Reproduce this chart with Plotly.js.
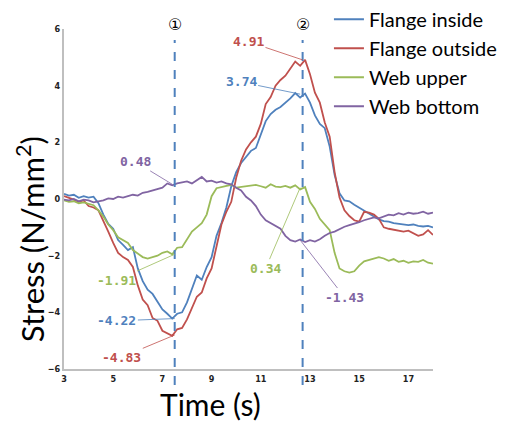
<!DOCTYPE html>
<html>
<head>
<meta charset="utf-8">
<script src="https://cdn.plot.ly/plotly-3.0.1.min.js"></script>
<style>html,body{margin:0;padding:0;background:#fff;}#chart{width:516px;height:424px;}</style>
</head>
<body>
<div id="chart"></div>
<script>
const time = [3.0,3.2,3.4,3.6,3.8,4.0,4.2,4.4,4.6,4.8,5.0,5.2,5.4,5.6,5.8,6.0,6.2,6.4,6.6,6.8,7.0,7.2,7.4,7.6,7.8,8.0,8.2,8.4,8.6,8.8,9.0,9.2,9.4,9.6,9.8,10.0,10.2,10.4,10.6,10.8,11.0,11.2,11.4,11.6,11.8,12.0,12.2,12.4,12.6,12.8,13.0,13.2,13.4,13.6,13.8,14.0,14.2,14.4,14.6,14.8,15.0,15.2,15.4,15.6,15.8,16.0,16.2,16.4,16.6,16.8,17.0,17.2,17.4,17.6,17.8,18.0];

const flangeInside = [0.18,0.12,0.15,0.04,0.10,0.05,0.08,-0.15,-0.55,-0.88,-1.05,-1.45,-1.62,-1.80,-1.70,-2.45,-2.90,-3.20,-3.35,-3.62,-3.90,-4.05,-4.22,-4.05,-4.00,-3.65,-3.15,-2.70,-2.85,-2.40,-2.05,-1.30,-0.85,-0.30,0.45,0.95,1.27,1.50,1.70,1.80,2.30,2.75,3.00,3.15,3.25,3.40,3.55,3.74,3.58,3.72,3.40,2.95,2.65,2.50,1.85,0.85,0.20,-0.05,-0.08,-0.20,-0.30,-0.42,-0.50,-0.60,-0.72,-0.78,-0.80,-0.85,-0.88,-0.90,-0.92,-0.90,-0.95,-0.97,-0.95,-1.00];

const flangeOutside = [0.10,0.05,-0.02,-0.10,-0.05,-0.25,-0.30,-0.40,-0.75,-1.15,-1.55,-1.90,-2.05,-2.15,-2.40,-3.05,-3.55,-3.75,-4.20,-4.30,-4.65,-4.75,-4.83,-4.60,-4.55,-4.25,-3.85,-3.45,-3.30,-2.80,-2.45,-1.65,-0.90,-0.45,-0.10,0.75,1.35,1.75,2.00,2.20,2.65,3.35,3.60,4.00,4.20,4.35,4.60,4.85,4.70,4.91,4.40,3.75,3.40,2.70,2.20,0.95,0.05,-0.40,-0.60,-0.75,-0.80,-0.45,-0.48,-0.55,-0.70,-1.00,-1.05,-1.08,-1.10,-1.15,-1.12,-1.20,-1.30,-1.25,-1.10,-1.27];

const webUpper = [-0.05,-0.10,-0.08,-0.15,-0.12,-0.18,-0.22,-0.40,-0.62,-0.90,-1.10,-1.35,-1.45,-1.55,-1.80,-1.92,-2.05,-2.10,-2.05,-2.00,-1.90,-1.85,-1.95,-1.72,-1.70,-1.40,-1.15,-1.00,-0.85,-0.55,0.10,0.38,0.42,0.45,0.50,0.40,0.42,0.45,0.48,0.50,0.45,0.40,0.52,0.44,0.42,0.46,0.40,0.48,0.34,0.42,-0.10,-0.35,-0.70,-0.90,-1.10,-1.90,-2.45,-2.55,-2.60,-2.55,-2.35,-2.20,-2.15,-2.12,-2.05,-2.10,-2.18,-2.12,-2.22,-2.18,-2.25,-2.20,-2.22,-2.15,-2.25,-2.28];

const webBottom = [-0.02,-0.05,0.00,-0.08,-0.02,-0.05,-0.12,-0.08,-0.05,0.02,0.00,0.08,0.05,0.10,0.15,0.12,0.22,0.25,0.30,0.35,0.40,0.55,0.48,0.55,0.58,0.62,0.55,0.65,0.78,0.62,0.65,0.58,0.62,0.55,0.52,0.40,0.30,0.08,-0.05,-0.25,-0.55,-0.75,-0.85,-0.95,-1.05,-1.30,-1.45,-1.50,-1.43,-1.52,-1.45,-1.50,-1.42,-1.30,-1.20,-1.15,-1.05,-0.98,-0.92,-0.88,-0.82,-0.75,-0.70,-0.65,-0.68,-0.62,-0.55,-0.58,-0.50,-0.55,-0.48,-0.52,-0.50,-0.45,-0.52,-0.48];

const seriesNames = ["Flange inside","Flange outside","Web upper","Web bottom"];
const seriesColors = ["#4F81BD","#C0504D","#9BBB59","#8064A2"];
const seriesData = [flangeInside, flangeOutside, webUpper, webBottom];

const markerTimes = [7.5, 12.7];
const markerLabels = ["①","②"];

// callouts
const calloutLabels = ["4.91","3.74","0.48","-1.91","-4.22","-4.83","0.34","-1.43"];
const calloutX = [12.7,12.6,7.4,7.5,7.5,7.5,12.6,12.6];
const calloutY = [4.91,3.70,0.52,-1.95,-4.22,-4.80,0.40,-1.45];
const calloutTX = [10.5,10.2,5.9,5.15,5.15,5.35,11.2,14.4];
const calloutTY = [5.55,4.13,1.31,-2.86,-4.30,-5.58,-2.44,-3.46];
const calloutSeries = [1,0,3,2,0,1,2,3];

const traces = seriesNames.map((n,i)=>({
  x: time, y: seriesData[i], type:'scatter', mode:'lines', name:n,
  line:{color:seriesColors[i], width:1.8}
}));

const annotations = [];
calloutLabels.forEach((lab,i)=>{
  annotations.push({
    x: calloutX[i], y: calloutY[i], xref:'x', yref:'y',
    ax: calloutTX[i], ay: calloutTY[i], axref:'x', ayref:'y',
    text: lab, showarrow:true, arrowhead:0, arrowwidth:0.8,
    arrowcolor: seriesColors[calloutSeries[i]], standoff:0,
    font:{family:'DejaVu Sans Mono', size:13, color:seriesColors[calloutSeries[i]], weight:'bold'}
  });
});
markerTimes.forEach((t,i)=>{
  annotations.push({x:t, xref:'x', y:1.012, yref:'paper', yanchor:'middle', text:markerLabels[i], showarrow:false,
    font:{family:'DejaVu Sans, Noto Sans CJK JP', size:16, color:'#000000'}});
});
annotations.push({x:-0.092, xref:'paper', xanchor:'center', y:0.382, yref:'paper', yanchor:'middle',
  text:'Stress (N/mm<sup>2</sup>)', textangle:-90, showarrow:false,
  font:{family:'Lato', size:31, color:'#000'}});
annotations.push({x:0.398, xref:'paper', xanchor:'center', y:-0.103, yref:'paper', yanchor:'middle',
  text:'Time (s)', showarrow:false,
  font:{family:'Lato', size:30, color:'#000'}});

const shapes = markerTimes.map(t=>({
  type:'line', xref:'x', yref:'paper', x0:t, x1:t, y0:-0.047, y1:0.968,
  line:{color:'#4F81BD', width:2, dash:'dash'}
}));

const layout = {
  width:516, height:424,
  margin:{l:64, r:83, t:29, b:55, autoexpand:false},
  paper_bgcolor:'#fff', plot_bgcolor:'#fff',
  showlegend:true,
  legend:{x:0.718, xanchor:'left', y:1.086, yanchor:'top', font:{family:'Lato', size:20, color:'#000'},
    bgcolor:'rgba(0,0,0,0)', tracegroupgap:0, itemwidth:30},
  xaxis:{range:[3,18], tick0:3, dtick:2, showgrid:false, zeroline:false, showline:true, linecolor:'#BFBFBF', linewidth:2,
    ticks:'', tickfont:{family:'DejaVu Sans Condensed', size:9, color:'#222', weight:'bold'}, fixedrange:true},
  yaxis:{range:[-6,6], dtick:2, showgrid:false, zeroline:false, showline:true, linecolor:'#BFBFBF', linewidth:2,
    ticks:'', tickfont:{family:'DejaVu Sans Condensed', size:9, color:'#222', weight:'bold'}, fixedrange:true},
  annotations: annotations,
  shapes: shapes
};

Plotly.newPlot('chart', traces, layout, {displayModeBar:false, staticPlot:true});
</script>
</body>
</html>
